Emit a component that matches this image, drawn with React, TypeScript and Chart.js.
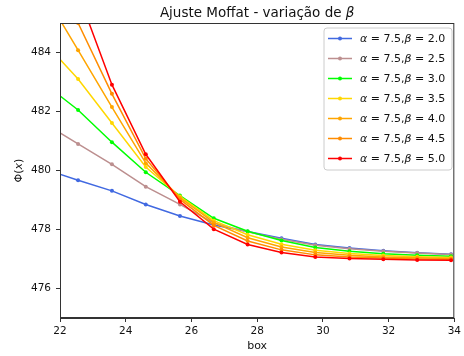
import React, { useEffect, useRef } from "react";
import { Chart, registerables } from "chart.js";

Chart.register(...registerables);

const xValues = [21.52, 22.55, 23.58, 24.61, 25.65, 26.68, 27.71, 28.74, 29.77, 30.81, 31.84, 32.87, 33.9];
const beta20 = [480.05, 479.67, 479.31, 478.85, 478.46, 478.15, 477.93, 477.7, 477.49, 477.37, 477.28, 477.21, 477.16];
const beta25 = [481.6, 480.9, 480.21, 479.45, 478.85, 478.22, 477.92, 477.67, 477.47, 477.35, 477.26, 477.2, 477.15];
const beta30 = [482.95, 482.05, 480.96, 479.94, 479.15, 478.38, 477.94, 477.63, 477.39, 477.26, 477.18, 477.13, 477.09];
const beta35 = [484.35, 483.1, 481.61, 480.12, 479.12, 478.3, 477.82, 477.5, 477.3, 477.19, 477.12, 477.08, 477.05];
const beta40 = [486.0, 484.08, 482.15, 480.25, 479.08, 478.24, 477.72, 477.41, 477.22, 477.13, 477.07, 477.04, 477.02];
const beta45 = [487.5, 485.0, 482.6, 480.4, 479.02, 478.14, 477.61, 477.31, 477.14, 477.07, 477.03, 477.0, 476.99];
const beta50 = [489.2, 486.0, 482.91, 480.55, 478.94, 478.01, 477.49, 477.22, 477.07, 477.02, 476.99, 476.97, 476.96];

const seriesValues = [beta20, beta25, beta30, beta35, beta40, beta45, beta50];
const alphaLabel = "7.5";
const betaLabels = ["2.0", "2.5", "3.0", "3.5", "4.0", "4.5", "5.0"];
const seriesColors = ["#4169E1", "#BC8F8F", "#00FF00", "#FFD700", "#FFA500", "#FF8C00", "#FF0000"];
const xTicks = [22, 24, 26, 28, 30, 32, 34];
const yTicks = [476, 478, 480, 482, 484];
const titleText = "Ajuste Moffat - variação de ";

const FONT = '"DejaVu Sans"';

const overlayPlugin = {
  id: "overlay",
  afterDraw(chart: any) {
    const ctx = chart.ctx as CanvasRenderingContext2D;
    const a = chart.chartArea;
    ctx.save();
    // spines
    ctx.strokeStyle = "#333";
    ctx.lineWidth = 1;
    ctx.strokeRect(a.left + 0.5, a.top + 0.5, a.right - a.left - 1, a.bottom - a.top - 1);

    ctx.fillStyle = "#111";
    ctx.textBaseline = "alphabetic";
    // title
    const normTitle = `13.5px ${FONT}`;
    const itTitle = `italic 13.5px ${FONT}`;
    ctx.font = normTitle;
    const w1 = ctx.measureText(titleText).width;
    ctx.font = itTitle;
    const w2 = ctx.measureText("β").width;
    const cx = (a.left + a.right) / 2;
    let tx = cx - (w1 + w2) / 2;
    ctx.textAlign = "left";
    ctx.font = normTitle;
    ctx.fillText(titleText, tx, 17);
    ctx.font = itTitle;
    ctx.fillText("β", tx + w1, 17);

    // x title
    ctx.font = `11px ${FONT}`;
    ctx.textAlign = "center";
    ctx.fillText("box", cx, 349);

    // y title
    ctx.save();
    ctx.translate(22, (a.top + a.bottom) / 2);
    ctx.rotate(-Math.PI / 2);
    const yParts = [
      { t: "Φ(", f: `11px ${FONT}` },
      { t: "x", f: `italic 11px ${FONT}` },
      { t: ")", f: `11px ${FONT}` },
    ];
    let tot = 0;
    for (const p of yParts) { ctx.font = p.f; tot += ctx.measureText(p.t).width; }
    let px = -tot / 2;
    ctx.textAlign = "left";
    for (const p of yParts) { ctx.font = p.f; ctx.fillText(p.t, px, 0); px += ctx.measureText(p.t).width; }
    ctx.restore();

    // legend
    const bx = 324, by = 28, bw = 128, bh = 142;
    ctx.beginPath();
    const r = 3;
    ctx.moveTo(bx + r, by);
    ctx.lineTo(bx + bw - r, by);
    ctx.quadraticCurveTo(bx + bw, by, bx + bw, by + r);
    ctx.lineTo(bx + bw, by + bh - r);
    ctx.quadraticCurveTo(bx + bw, by + bh, bx + bw - r, by + bh);
    ctx.lineTo(bx + r, by + bh);
    ctx.quadraticCurveTo(bx, by + bh, bx, by + bh - r);
    ctx.lineTo(bx, by + r);
    ctx.quadraticCurveTo(bx, by, bx + r, by);
    ctx.closePath();
    ctx.fillStyle = "rgba(255,255,255,0.8)";
    ctx.fill();
    ctx.strokeStyle = "#cccccc";
    ctx.lineWidth = 1;
    ctx.stroke();

    const nf = `11px ${FONT}`;
    const itf = `italic 11px ${FONT}`;
    betaLabels.forEach((b, i) => {
      const ry = 38.5 + i * 20;
      ctx.strokeStyle = seriesColors[i];
      ctx.lineWidth = 1.5;
      ctx.beginPath();
      ctx.moveTo(328, ry);
      ctx.lineTo(352, ry);
      ctx.stroke();
      ctx.fillStyle = seriesColors[i];
      ctx.beginPath();
      ctx.arc(340, ry, 2, 0, Math.PI * 2);
      ctx.fill();
      const parts = [
        { t: "α", f: itf },
        { t: ` = ${alphaLabel},`, f: nf },
        { t: "β", f: itf },
        { t: ` = ${b}`, f: nf },
      ];
      let lx = 360;
      ctx.fillStyle = "#111";
      ctx.textAlign = "left";
      ctx.textBaseline = "middle";
      for (const p of parts) {
        ctx.font = p.f;
        ctx.fillText(p.t, lx, ry + 0.5);
        lx += ctx.measureText(p.t).width;
      }
    });
    ctx.restore();
  },
};

export default function App() {
  const ref = useRef<HTMLCanvasElement | null>(null);
  useEffect(() => {
    document.body.style.margin = "0";
    const canvas = ref.current!;
    const chart = new Chart(canvas, {
      type: "line",
      data: {
        datasets: seriesValues.map((vals, i) => ({
          label: `α = ${alphaLabel},β = ${betaLabels[i]}`,
          data: xValues.map((x, j) => ({ x, y: vals[j] })),
          borderColor: seriesColors[i],
          backgroundColor: seriesColors[i],
          borderWidth: 1.5,
          pointRadius: 2,
          pointBorderWidth: 0,
          pointHoverRadius: 2,
          tension: 0,
          fill: false,
          clip: 0,
          order: seriesValues.length - 1 - i,
        })),
      },
      options: {
        animation: false,
        responsive: false,
        devicePixelRatio: 1,
        layout: { padding: { top: 23, right: 7, left: 0, bottom: 0 } },
        plugins: {
          legend: { display: false },
          title: { display: false },
          tooltip: { enabled: false },
        },
        scales: {
          x: {
            type: "linear",
            min: 22,
            max: 34,
            afterBuildTicks: (s: any) => { s.ticks = xTicks.map((v) => ({ value: v })); },
            afterFit: (s: any) => { s.height = 38; },
            grid: { display: true, drawOnChartArea: false, drawTicks: true, tickLength: 4, color: "#333" },
            border: { display: true, color: "#333" },
            ticks: { color: "#111", font: { family: "DejaVu Sans", size: 10.5 }, padding: 3, maxRotation: 0 },
          },
          y: {
            type: "linear",
            min: 475,
            max: 485,
            afterBuildTicks: (s: any) => { s.ticks = yTicks.map((v) => ({ value: v })); },
            afterFit: (s: any) => { s.width = 60; },
            grid: { display: true, drawOnChartArea: false, drawTicks: true, tickLength: 4, color: "#333" },
            border: { display: true, color: "#333" },
            ticks: { color: "#111", font: { family: "DejaVu Sans", size: 10.5 }, padding: 5 },
          },
        },
      },
      plugins: [overlayPlugin],
    });
    return () => chart.destroy();
  }, []);
  return (
    <div style={{ position: "fixed", left: 0, top: 0, width: 464, height: 356 }}>
      <canvas ref={ref} width={464} height={356} style={{ width: 464, height: 356 }} />
    </div>
  );
}
